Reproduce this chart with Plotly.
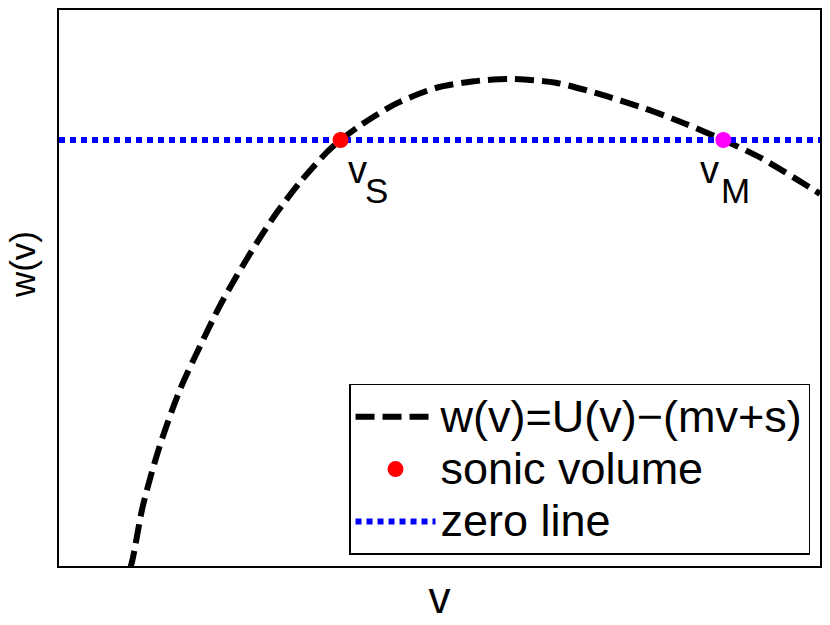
import plotly.graph_objects as go

# Curve w(v) = U(v) - (mv + s) (arbitrary units)
v_curve = [0.82, 0.957, 1.10, 1.32, 1.59, 1.85, 2.11, 2.33, 2.60, 2.86, 3.16, 3.51, 3.70,
           3.98, 4.43, 4.95, 5.43, 5.91, 6.53, 7.05, 7.71, 8.23, 8.73, 9.23, 9.88, 10.0]
w_curve = [-35.0, -32.5, -28.2, -23.6, -19.2, -15.9, -12.8, -10.5, -7.9, -5.6, -3.3, -1.0, 0.0,
           1.2, 2.8, 4.0, 4.5, 4.7, 4.4, 3.62, 2.4, 1.25, 0.0, -1.4, -3.7, -4.15]

v_sonic = [3.70]
w_sonic = [0.0]
v_m = [8.73]
w_m = [0.0]

zero_x = [0.0, 10.0]
zero_y = [0.0, 0.0]

X_RANGE = [0, 10]
Y_RANGE = [-32.77, 10]

FONT = "Liberation Sans, Arial, sans-serif"


def big(txt):
    return "<span style='font-size:45px'>" + txt + "</span>"


fig = go.Figure()

fig.add_trace(go.Scatter(
    x=v_curve, y=w_curve, mode="lines", name=big("w(v)=U(v)\u2212(mv+s)"),
    line=dict(color="black", width=6, dash="19px,8px", shape="spline", smoothing=0.8),
    legendgroup="a", legendrank=1,
))
fig.add_trace(go.Scatter(
    x=zero_x, y=zero_y, mode="lines", name=big("zero line"),
    line=dict(color="#0000ff", width=6, dash="6px,5px"),
    legendgroup="c", legendrank=3,
))
fig.add_trace(go.Scatter(
    x=v_sonic, y=w_sonic, mode="markers", name=big("sonic volume"),
    marker=dict(color="#ff0000", size=16),
    legendgroup="b", legendrank=2,
))
fig.add_trace(go.Scatter(
    x=v_m, y=w_m, mode="markers", name="v_M", showlegend=False,
    marker=dict(color="#ff00ff", size=16),
))

ann_font = dict(family=FONT, size=38, color="black")
sub_font = dict(family=FONT, size=35, color="black")
annotations = [
    dict(x=v_sonic[0], y=0, xref="x", yref="y", text="v", showarrow=False,
         xshift=17, yshift=-30, font=ann_font),
    dict(x=v_sonic[0], y=0, xref="x", yref="y", text="S", showarrow=False,
         xshift=36, yshift=-50, font=sub_font),
    dict(x=v_m[0], y=0, xref="x", yref="y", text="v", showarrow=False,
         xshift=-14, yshift=-30, font=ann_font),
    dict(x=v_m[0], y=0, xref="x", yref="y", text="M", showarrow=False,
         xshift=12, yshift=-50, font=sub_font),
    dict(x=-0.0472, y=0.5414, xref="paper", yref="paper", text="w(v)", showarrow=False,
         xanchor="center", yanchor="middle",
         textangle=-90, font=dict(family=FONT, size=35, color="black")),
]

axis_common = dict(showgrid=False, zeroline=False, showticklabels=False, ticks="",
                   showline=True, mirror=True, linecolor="black", linewidth=1.5)

fig.update_layout(
    width=830, height=625,
    margin=dict(l=59, r=8, t=10, b=59),
    paper_bgcolor="white", plot_bgcolor="white",
    font=dict(family=FONT, color="black"),
    xaxis=dict(range=X_RANGE, title=dict(text="v", font=dict(family=FONT, size=44), standoff=15),
               **axis_common),
    yaxis=dict(range=Y_RANGE, **axis_common),
    legend=dict(x=0.9869, y=0.0198, xanchor="right", yanchor="bottom",
                bgcolor="white", bordercolor="black", borderwidth=1.5,
                font=dict(family=FONT, size=38, color="black"),
                itemwidth=80, tracegroupgap=0, traceorder="normal"),
    annotations=annotations,
    showlegend=True,
)

fig.write_html("out.html", config={"displayModeBar": False},
               post_script="document.body.style.margin='0';")
